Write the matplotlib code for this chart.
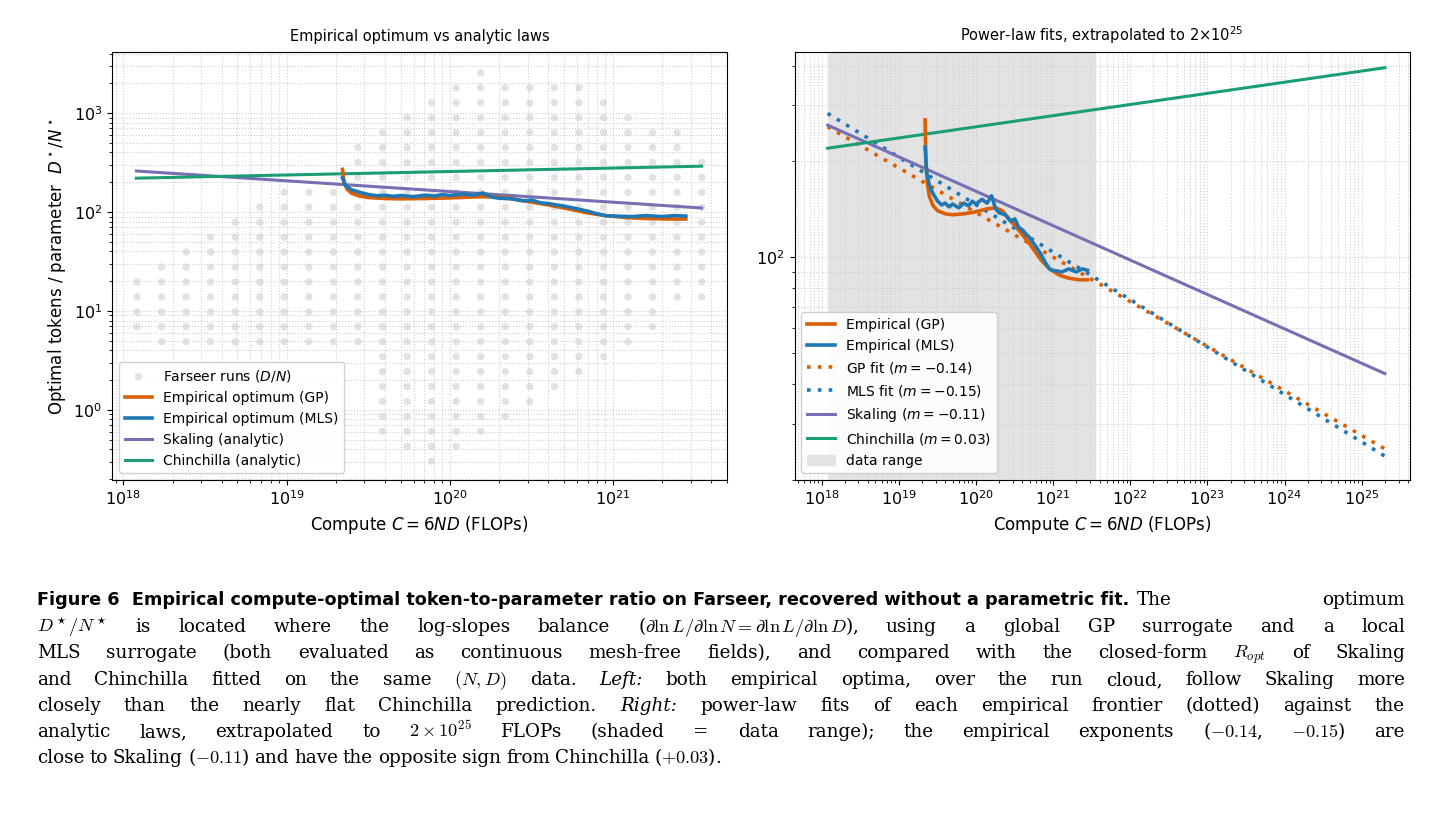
import numpy as np
import matplotlib
matplotlib.use("Agg")
import matplotlib.pyplot as plt
from matplotlib.ticker import LogLocator, NullFormatter

# ---------------- data ----------------
run_logC = [18.083 + 0.1505 * i for i in range(24)]
run_row_top = [14, 13, 12, 11, 10, 9, 8, 8, 8, 5, 4, 3, 2, 1, 0, 1, 1, 1, 1, 2, 3, 4, 4, 6]
run_row_bot = [17, 18, 18, 18, 18, 18, 18, 18, 18, 18, 24, 25, 26, 25, 24, 23, 22, 21, 20, 19, 18, 17, 15, 15]
row_logr0, row_step = 3.407, 0.151

gp_C = [2.2e19, 2.25e19, 2.35e19, 2.5e19, 2.8e19, 3.2e19, 4e19, 5e19, 7e19, 1e20, 1.4e20,
        1.8e20, 2.2e20, 3e20, 4e20, 5e20, 7e20, 9e20, 1.2e21, 1.6e21, 2.2e21, 2.8e21]
gp_r = [270, 200, 170, 155, 145, 140, 137, 136, 137, 139, 142, 143, 140, 128, 118, 110, 98,
        92, 88, 86, 85, 85]
mls_C = [2.2e19, 2.3e19, 2.5e19, 2.8e19, 3.2e19, 3.6e19, 4e19, 4.5e19, 5e19, 6e19, 7e19, 8e19,
         9e19, 1e20, 1.2e20, 1.4e20, 1.6e20, 1.8e20, 2e20, 2.4e20, 2.8e20, 3.2e20, 3.6e20, 4e20,
         4.5e20, 5e20, 6e20, 7e20, 8e20, 9e20, 1e21, 1.3e21, 1.6e21, 2e21, 2.4e21, 2.8e21]
mls_r = [222, 185, 168, 158, 150, 146, 148, 144, 147, 143, 148, 145, 150, 147, 152, 148, 156,
         142, 138, 136, 130, 132, 124, 122, 118, 115, 108, 102, 96, 92, 91, 90, 92, 90, 92, 91]

C0 = 1.2e18
C_data_max = 3.5e21
C_extrap = 2e25
skaling_A, skaling_m = 260, -0.108
chin_A, chin_m = 220, 0.035
gpfit_A, gpfit_m = 257, -0.14
mlsfit_A, mlsfit_m = 283, -0.149

ORANGE, BLUE, PURPLE, GREEN = "#d95f02", "#1f77b4", "#7570b3", "#1b9e77"

def law(A, m, C):
    C = np.asarray(C, dtype=float)
    return A * (C / C0) ** m

plt.rcParams['font.family'] = ['DejaVu Sans']
fig = plt.figure(figsize=(14.42, 8.32), dpi=100)
axL = fig.add_axes([0.0777, 0.423, 0.4265, 0.5145])
axR = fig.add_axes([0.551, 0.423, 0.4265, 0.5145])

# ---------------- left ----------------
xs, ys = [], []
for lc, t, b in zip(run_logC, run_row_top, run_row_bot):
    for k in range(t, b + 1):
        xs.append(10 ** lc)
        ys.append(10 ** (row_logr0 - row_step * k))
axL.scatter(xs, ys, s=28, color="#cfcfcf", alpha=0.6, edgecolors="none",
            label="Farseer runs ($D/N$)", zorder=1)
axL.plot(gp_C, gp_r, color=ORANGE, lw=2.6, label="Empirical optimum (GP)", zorder=3)
axL.plot(mls_C, mls_r, color=BLUE, lw=2.6, label="Empirical optimum (MLS)", zorder=4)
cl = np.array([C0, C_data_max])
axL.plot(cl, law(skaling_A, skaling_m, cl), color=PURPLE, lw=2.2, label="Skaling (analytic)", zorder=2)
axL.plot(cl, law(chin_A, chin_m, cl), color=GREEN, lw=2.2, label="Chinchilla (analytic)", zorder=2)
axL.set_xscale("log"); axL.set_yscale("log")
axL.set_xlim(10 ** 17.93, 10 ** 21.70)
axL.set_ylim(0.195, 4150)
axL.set_title("Empirical optimum vs analytic laws", fontsize=10.5, pad=8)
axL.set_xlabel("Compute $C = 6ND$ (FLOPs)", fontsize=12)
axL.set_ylabel("Optimal tokens / parameter  $D^\\star/N^\\star$", fontsize=12)
axL.legend(loc="lower left", fontsize=10, framealpha=0.9)

# ---------------- right ----------------
axR.axvspan(C0, C_data_max, color="#e3e3e3", label="data range", zorder=0)
axR.plot(gp_C, gp_r, color=ORANGE, lw=2.6, label="Empirical (GP)", zorder=3)
axR.plot(mls_C, mls_r, color=BLUE, lw=2.6, label="Empirical (MLS)", zorder=4)
ce = np.logspace(np.log10(C0), np.log10(C_extrap), 200)
axR.plot(ce, law(gpfit_A, gpfit_m, ce), color=ORANGE, lw=2.6, ls=(0, (1, 2)),
         label="GP fit ($m = -0.14$)", zorder=2)
axR.plot(ce, law(mlsfit_A, mlsfit_m, ce), color=BLUE, lw=2.6, ls=(0, (1, 2)),
         label="MLS fit ($m = -0.15$)", zorder=2)
axR.plot(ce, law(skaling_A, skaling_m, ce), color=PURPLE, lw=2.2, label="Skaling ($m = -0.11$)", zorder=2)
axR.plot(ce, law(chin_A, chin_m, ce), color=GREEN, lw=2.2, label="Chinchilla ($m = 0.03$)", zorder=2)
axR.set_xscale("log"); axR.set_yscale("log")
axR.set_xlim(10 ** 17.65, 10 ** 25.62)
axR.set_ylim(20, 441)
axR.set_title("Power-law fits, extrapolated to 2$\\times$10$^{25}$", fontsize=10.5, pad=8)
axR.set_xlabel("Compute $C = 6ND$ (FLOPs)", fontsize=12)
axR.xaxis.set_major_locator(LogLocator(base=10, numticks=20))
axR.xaxis.set_minor_locator(LogLocator(base=10, subs=np.arange(2, 10), numticks=100))
axR.xaxis.set_minor_formatter(NullFormatter())
axR.yaxis.set_minor_formatter(NullFormatter())
h, l = axR.get_legend_handles_labels()
order = [1, 2, 3, 4, 5, 6, 0]
axR.legend([h[i] for i in order], [l[i] for i in order], loc="lower left", fontsize=10, framealpha=0.9)

for ax in (axL, axR):
    ax.grid(True, which="both", ls=":", color="#cfcfcf", lw=0.8)
    ax.set_axisbelow(True)
    ax.tick_params(labelsize=11.5)

# ---------------- caption ----------------
fig.canvas.draw()
r = fig.canvas.get_renderer()
W, H = 1442, 832
x0, x1 = 37, 1405
ys_px = [605, 632, 658, 685, 711, 737, 763]
bold = "Figure 6  Empirical compute-optimal token-to-parameter ratio on Farseer, recovered without a parametric fit."
tb = fig.text(x0 / W, 1 - ys_px[0] / H, bold, fontsize=12.5, fontweight="bold",
              family="DejaVu Sans", va="baseline", ha="left")
bb = tb.get_window_extent(r)
tb.set_fontsize(12.5 * (1130 - x0) / bb.width)
bb = tb.get_window_extent(r)

FS = 13.2
def tokens(s):
    out, cur, inm = [], "", False
    for ch in s:
        if ch == "$":
            inm = not inm
        if ch == " " and not inm:
            if cur:
                out.append(cur)
            cur = ""
        else:
            cur += ch
    if cur:
        out.append(cur)
    return out

def put_line(s, xs_px, xe_px, yp, justify=True):
    objs = []
    for tk in tokens(s):
        style = "normal"
        if tk.startswith("~"):
            tk, style = tk[1:], "italic"
        t = fig.text(0, 1 - yp / H, tk, fontsize=FS, family="DejaVu Serif", style=style,
                     va="baseline", ha="left", math_fontfamily="cm")
        objs.append(t)
    widths = [o.get_window_extent(r).width for o in objs]
    sp = 5.0
    if justify and len(objs) > 1:
        sp = (xe_px - xs_px - sum(widths)) / (len(objs) - 1)
    x = xs_px
    for o, w in zip(objs, widths):
        o.set_x(x / W)
        x += w + sp

put_line("The optimum", bb.x1 + 8, x1, ys_px[0])
lines = [
    r"$D^\star/N^\star$ is located where the log-slopes balance ($\partial\ln L/\partial\ln N = \partial\ln L/\partial\ln D$), using a global GP surrogate and a local",
    r"MLS surrogate (both evaluated as continuous mesh-free fields), and compared with the closed-form $R_{opt}$ of Skaling",
    r"and Chinchilla fitted on the same $(N, D)$ data. ~Left: both empirical optima, over the run cloud, follow Skaling more",
    r"closely than the nearly flat Chinchilla prediction. ~Right: power-law fits of each empirical frontier (dotted) against the",
    r"analytic laws, extrapolated to $2 \times 10^{25}$ FLOPs (shaded = data range); the empirical exponents ($-0.14$, $-0.15$) are",
    r"close to Skaling ($-0.11$) and have the opposite sign from Chinchilla ($+0.03$).",
]
for i, (yp, s) in enumerate(zip(ys_px[1:], lines)):
    put_line(s, x0, x1, yp, justify=(i < len(lines) - 1))

fig.savefig("out.png", dpi=100)
